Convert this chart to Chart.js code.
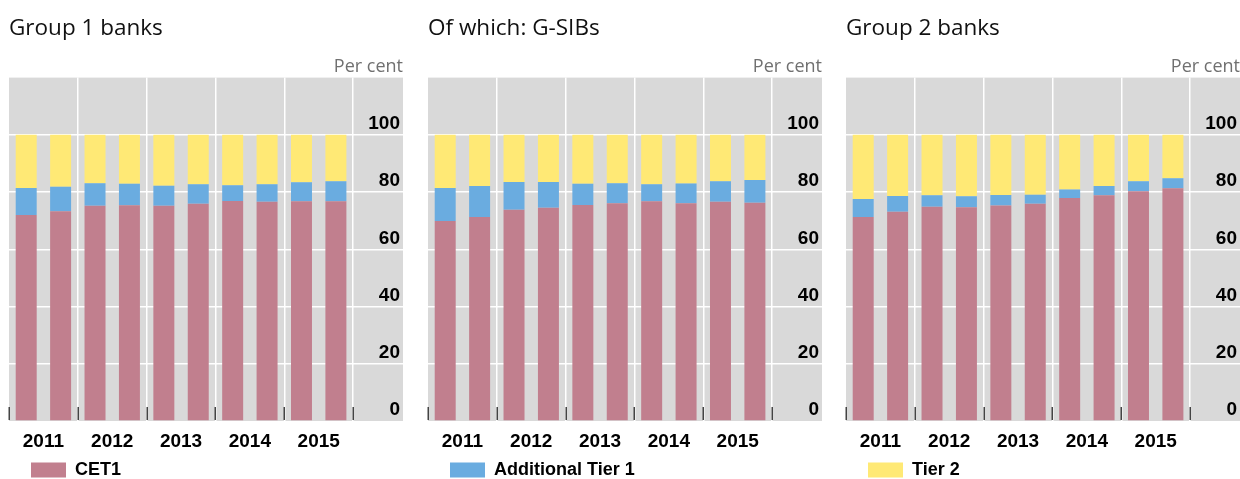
<!DOCTYPE html>
<html>
<head>
<meta charset="utf-8">
<script src="https://cdn.jsdelivr.net/npm/chart.js@4.4.1/dist/chart.umd.min.js"></script>
<style>
  html, body { margin: 0; padding: 0; background: #fff; overflow: hidden; width: 1240px; height: 479px; }
  .panel { position: absolute; top: 0; width: 413px; height: 489px; }
</style>
</head>
<body>
<div class="panel" style="left:0px"><canvas id="c0"></canvas></div>
<div class="panel" style="left:419px"><canvas id="c1"></canvas></div>
<div class="panel" style="left:837px"><canvas id="c2"></canvas></div>
<script>
// ---- data ----
const years = ['2011', '2012', '2013', '2014', '2015'];
const yTicks = [0, 20, 40, 60, 80, 100];
const panelTitles = ['Group 1 banks', 'Of which: G-SIBs', 'Group 2 banks'];
const unitLabel = 'Per cent';
const seriesNames = ['CET1', 'Additional Tier 1', 'Tier 2'];

// Group 1 banks (two observations per year)
const g1CET1 = [72.0, 73.3, 75.2, 75.4, 75.2, 75.9, 76.9, 76.6, 76.8, 76.8];
const g1AT1  = [9.4, 8.6, 7.9, 7.5, 7.0, 6.8, 5.5, 6.1, 6.6, 7.0];
const g1T2   = [18.6, 18.1, 16.9, 17.1, 17.8, 17.3, 17.6, 17.3, 16.6, 16.2];

// Of which: G-SIBs
const gsCET1 = [69.9, 71.3, 73.8, 74.5, 75.5, 76.1, 76.8, 76.1, 76.6, 76.3];
const gsAT1  = [11.5, 10.8, 9.7, 9.0, 7.4, 7.0, 5.9, 6.9, 7.2, 7.9];
const gsT2   = [18.6, 17.9, 16.5, 16.5, 17.1, 16.9, 17.3, 17.0, 16.2, 15.8];

// Group 2 banks
const g2CET1 = [71.3, 73.1, 74.9, 74.7, 75.3, 75.9, 77.9, 78.9, 80.3, 81.3];
const g2AT1  = [6.3, 5.5, 4.0, 3.8, 3.7, 3.2, 3.0, 3.2, 3.5, 3.5];
const g2T2   = [22.4, 21.4, 21.1, 21.5, 21.0, 20.9, 19.1, 17.9, 16.2, 15.2];

const panels = [
  [g1CET1, g1AT1, g1T2],
  [gsCET1, gsAT1, gsT2],
  [g2CET1, g2AT1, g2T2]
];
const colors = ['#c17f8e', '#6aace0', '#ffe975'];

// ---- style plugins ----
const bgPlugin = {
  id: 'bg',
  beforeDraw(chart) {
    const a = chart.chartArea, ctx = chart.ctx;
    ctx.save();
    ctx.fillStyle = '#d9d9d9';
    ctx.fillRect(a.left, a.top, a.right - a.left, a.bottom - a.top);
    ctx.restore();
  },
  afterDatasetsDraw(chart) {
    const a = chart.chartArea, ctx = chart.ctx, xs = chart.scales.x;
    ctx.save();
    ctx.strokeStyle = '#444';
    ctx.lineWidth = 1.5;
    for (let v = 0; v <= years.length * 2; v += 2) {
      const px = Math.round(xs.getPixelForValue(v)) + 0.25;
      ctx.beginPath();
      ctx.moveTo(px, a.bottom - 14);
      ctx.lineTo(px, a.bottom - 1);
      ctx.stroke();
    }
    ctx.restore();
  },
  afterLayout(chart) {
    if (chart.legend) { chart.legend.left += 12; }
  }
};

function makeChart(idx) {
  const vals = panels[idx];
  const datasets = vals.map((arr, s) => ({
    label: seriesNames[s],
    data: arr.map((v, i) => ({ x: i + 0.5, y: v })),
    backgroundColor: colors[s],
    borderWidth: 0,
    categoryPercentage: 1.0,
    barPercentage: 0.61
  }));
  return new Chart(document.getElementById('c' + idx), {
    type: 'bar',
    data: { datasets },
    plugins: [bgPlugin],
    options: {
      responsive: true,
      maintainAspectRatio: false,
      animation: false,
      layout: { padding: { left: 9, right: 10, top: 0, bottom: 0 } },
      plugins: {
        tooltip: { enabled: false },
        title: {
          display: true, text: panelTitles[idx], align: 'start', color: '#111',
          font: { family: '"Open Sans", "Noto Sans", sans-serif', size: 22.5, weight: 'normal' },
          padding: { top: 15, bottom: 0 }
        },
        subtitle: {
          display: true, text: unitLabel, align: 'end', color: '#707070',
          font: { family: '"Open Sans", "Noto Sans", sans-serif', size: 18, weight: 'normal' },
          padding: { top: 14, bottom: 0 }
        },
        legend: {
          display: true, position: 'bottom', align: 'start',
          labels: {
            filter: (item) => item.datasetIndex === idx,
            boxWidth: 35, boxHeight: 15, padding: 10, color: '#000',
            font: { family: '"Liberation Sans", Arial, sans-serif', size: 18, weight: 'bold' }
          }
        }
      },
      scales: {
        x: {
          type: 'linear', stacked: true, min: 0, max: 11.45, offset: false,
          afterBuildTicks: (s) => { s.ticks = []; for (let v = 0; v <= years.length * 2; v++) s.ticks.push({ value: v }); },
          afterFit: (s) => { s.height = 30; },
          grid: {
            offset: false, drawTicks: false, lineWidth: 1.5,
            color: (c) => (c.tick && c.tick.value % 2 === 0 && c.tick.value > 0) ? '#ffffff' : 'rgba(0,0,0,0)'
          },
          border: { display: false },
          ticks: {
            autoSkip: false, maxRotation: 0, padding: 9, color: '#000',
            font: { family: '"Liberation Sans", Arial, sans-serif', size: 19, weight: 'bold' },
            callback: (v) => (v % 2 === 1) ? years[(v - 1) / 2] : ''
          }
        },
        y: {
          position: 'right', stacked: true, min: 0, max: 120,
          afterBuildTicks: (s) => { s.ticks = yTicks.concat([120]).map(v => ({ value: v })); },
          afterFit: (s) => { s.width = 0; },
          grid: {
            drawTicks: false, lineWidth: 1.5,
            color: (c) => (c.tick && c.tick.value > 0 && c.tick.value < 120) ? '#ffffff' : 'rgba(0,0,0,0)'
          },
          border: { display: false },
          ticks: {
            mirror: true, padding: -3, labelOffset: -11, color: '#000',
            font: { family: '"Liberation Sans", Arial, sans-serif', size: 19, weight: 'bold' },
            callback: (v) => yTicks.includes(v) ? String(v) : ''
          }
        }
      }
    }
  });
}
[0, 1, 2].forEach(makeChart);
</script>
</body>
</html>
